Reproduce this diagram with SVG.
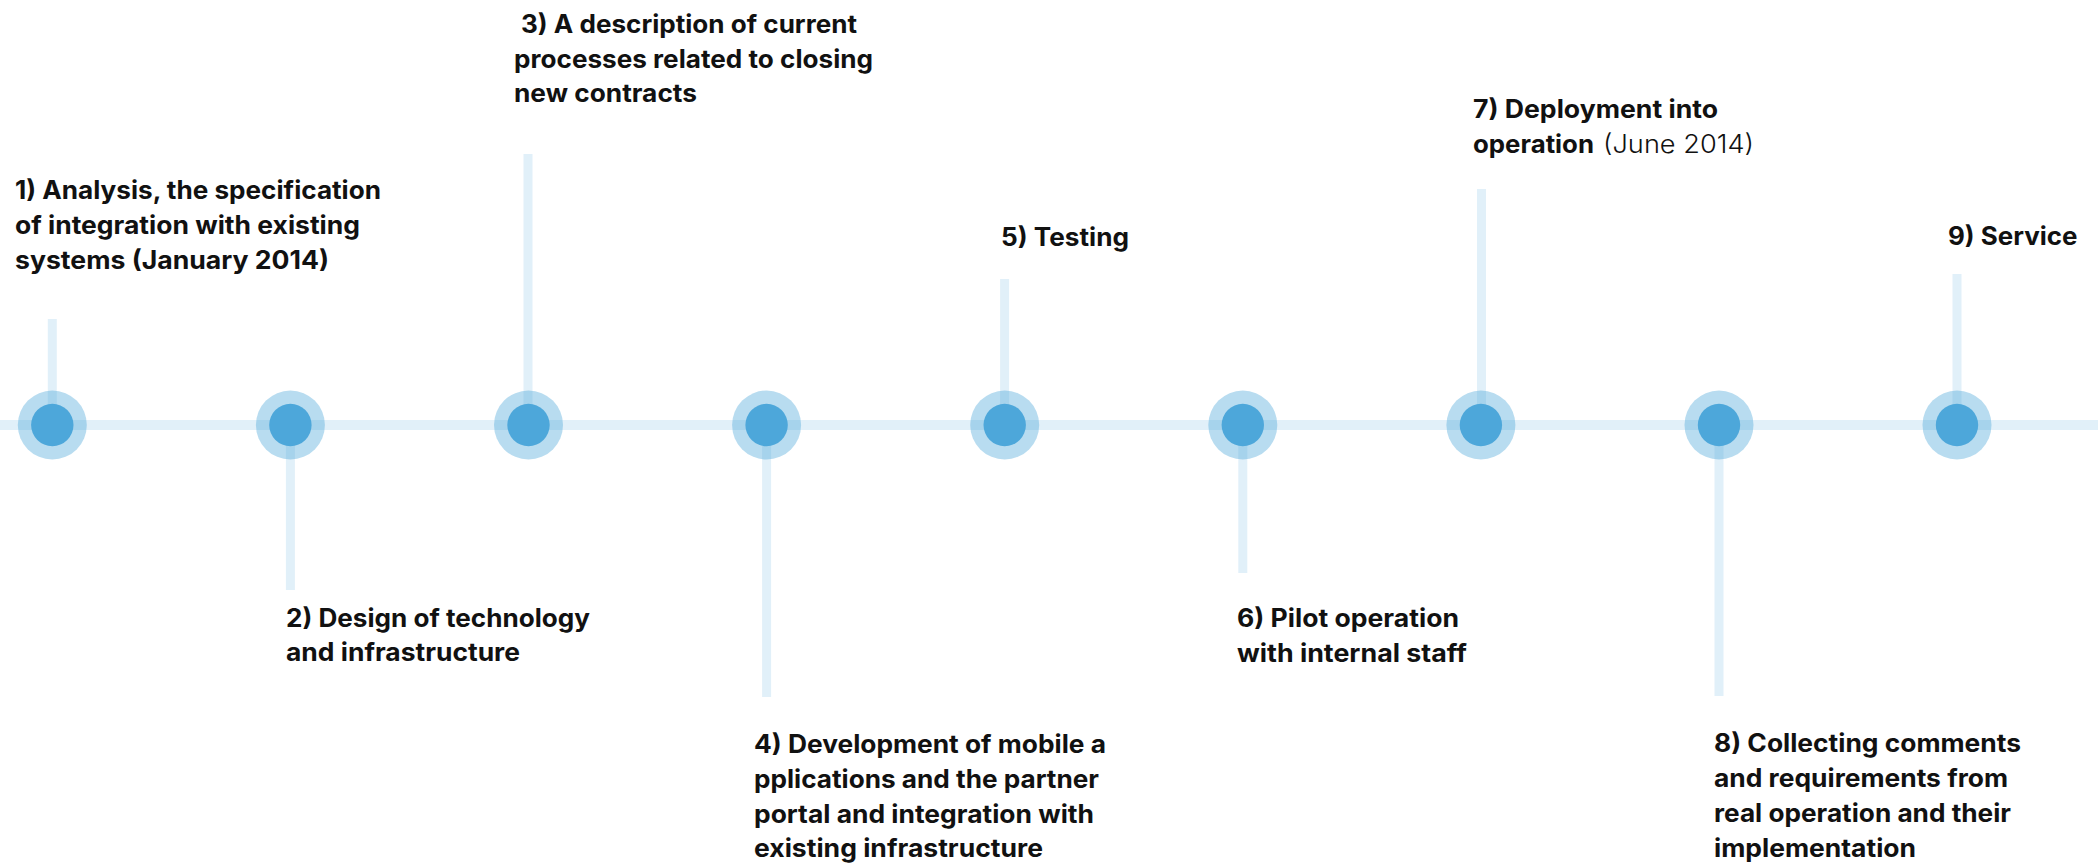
<svg xmlns="http://www.w3.org/2000/svg" width="2098" height="865" viewBox="0 0 2098 865">
<style>
.bg{fill:#ffffff}
.track{stroke:#e1f0f9;stroke-width:10;fill:none}
.stem{stroke:#e1f0f9;stroke-width:9;fill:none}
.halo{fill:#4da7da;fill-opacity:0.4}
.dot{fill:#4da7da}
.lbl{font-family:Inter,"Open Sans","Liberation Sans",sans-serif;font-size:25px;font-weight:700;fill:#111111}
.light{font-weight:300}
</style>
<rect class="bg" x="0" y="0" width="2098" height="865"/>
<g id="connectors">
<line class="track" x1="0" y1="425" x2="2098" y2="425"/>
<line class="stem" x1="52.3" y1="319" x2="52.3" y2="425"/>
<line class="stem" x1="290.4" y1="425" x2="290.4" y2="590"/>
<line class="stem" x1="528" y1="154" x2="528" y2="425"/>
<line class="stem" x1="766.6" y1="425" x2="766.6" y2="697"/>
<line class="stem" x1="1004.6" y1="279" x2="1004.6" y2="425"/>
<line class="stem" x1="1242.8" y1="425" x2="1242.8" y2="573"/>
<line class="stem" x1="1481.5" y1="189" x2="1481.5" y2="425"/>
<line class="stem" x1="1719" y1="425" x2="1719" y2="696"/>
<line class="stem" x1="1957" y1="274" x2="1957" y2="425"/>
</g>
<g id="node1">
<circle class="halo" cx="52.3" cy="425" r="34.5"/>
<circle class="dot" cx="52.3" cy="425" r="21.2"/>
<text class="lbl" x="15" y="199" textLength="366" lengthAdjust="spacingAndGlyphs">1) Analysis, the specification</text>
<text class="lbl" x="15" y="234" textLength="345" lengthAdjust="spacingAndGlyphs">of integration with existing</text>
<text class="lbl" x="15" y="269" textLength="314" lengthAdjust="spacingAndGlyphs">systems (January 2014)</text>
</g>
<g id="node2">
<circle class="halo" cx="290.4" cy="425" r="34.5"/>
<circle class="dot" cx="290.4" cy="425" r="21.2"/>
<text class="lbl" x="286" y="627" textLength="304" lengthAdjust="spacingAndGlyphs">2) Design of technology</text>
<text class="lbl" x="286" y="661" textLength="234" lengthAdjust="spacingAndGlyphs">and infrastructure</text>
</g>
<g id="node3">
<circle class="halo" cx="528.5" cy="425" r="34.5"/>
<circle class="dot" cx="528.5" cy="425" r="21.2"/>
<text class="lbl" x="521" y="33" textLength="336" lengthAdjust="spacingAndGlyphs">3) A description of current</text>
<text class="lbl" x="514" y="67.5" textLength="359" lengthAdjust="spacingAndGlyphs">processes related to closing</text>
<text class="lbl" x="514" y="102" textLength="183" lengthAdjust="spacingAndGlyphs">new contracts</text>
</g>
<g id="node4">
<circle class="halo" cx="766.6" cy="425" r="34.5"/>
<circle class="dot" cx="766.6" cy="425" r="21.2"/>
<text class="lbl" x="754" y="753" textLength="352" lengthAdjust="spacingAndGlyphs">4) Development of mobile a</text>
<text class="lbl" x="754" y="788" textLength="345" lengthAdjust="spacingAndGlyphs">pplications and the partner</text>
<text class="lbl" x="754" y="822.5" textLength="340" lengthAdjust="spacingAndGlyphs">portal and integration with</text>
<text class="lbl" x="754" y="857" textLength="289" lengthAdjust="spacingAndGlyphs">existing infrastructure</text>
</g>
<g id="node5">
<circle class="halo" cx="1004.7" cy="425" r="34.5"/>
<circle class="dot" cx="1004.7" cy="425" r="21.2"/>
<text class="lbl" x="1001" y="246" textLength="128" lengthAdjust="spacingAndGlyphs">5) Testing</text>
</g>
<g id="node6">
<circle class="halo" cx="1242.8" cy="425" r="34.5"/>
<circle class="dot" cx="1242.8" cy="425" r="21.2"/>
<text class="lbl" x="1237" y="627" textLength="222" lengthAdjust="spacingAndGlyphs">6) Pilot operation</text>
<text class="lbl" x="1237" y="662" textLength="230" lengthAdjust="spacingAndGlyphs">with internal staff</text>
</g>
<g id="node7">
<circle class="halo" cx="1480.9" cy="425" r="34.5"/>
<circle class="dot" cx="1480.9" cy="425" r="21.2"/>
<text class="lbl" x="1473" y="118" textLength="245" lengthAdjust="spacingAndGlyphs">7) Deployment into</text>
<text class="lbl" x="1473" y="152.5" textLength="121" lengthAdjust="spacingAndGlyphs">operation</text>
<text class="lbl light" x="1603" y="152.5" textLength="151" lengthAdjust="spacingAndGlyphs">(June 2014)</text>
</g>
<g id="node8">
<circle class="halo" cx="1719" cy="425" r="34.5"/>
<circle class="dot" cx="1719" cy="425" r="21.2"/>
<text class="lbl" x="1714" y="752" textLength="307" lengthAdjust="spacingAndGlyphs">8) Collecting comments</text>
<text class="lbl" x="1714" y="787" textLength="294" lengthAdjust="spacingAndGlyphs">and requirements from</text>
<text class="lbl" x="1714" y="822" textLength="297" lengthAdjust="spacingAndGlyphs">real operation and their</text>
<text class="lbl" x="1714" y="857" textLength="202" lengthAdjust="spacingAndGlyphs">implementation</text>
</g>
<g id="node9">
<circle class="halo" cx="1957" cy="425" r="34.5"/>
<circle class="dot" cx="1957" cy="425" r="21.2"/>
<text class="lbl" x="1948" y="245" textLength="129.5" lengthAdjust="spacingAndGlyphs">9) Service</text>
</g>
</svg>
